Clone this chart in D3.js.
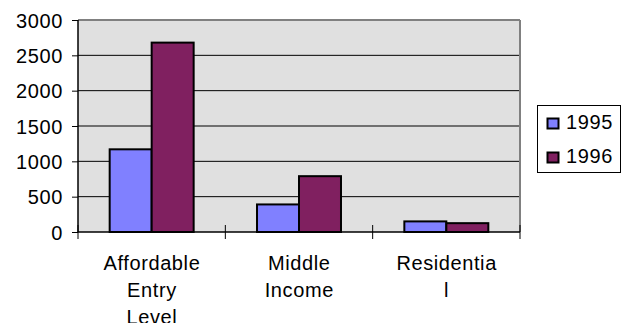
<!DOCTYPE html>
<html><head><meta charset="utf-8">
<script src="https://cdn.jsdelivr.net/npm/d3@7/dist/d3.min.js"></script>
<style>
html,body{margin:0;padding:0;background:#fff;}
svg{display:block;}
text{font-family:"Liberation Sans",Arial,sans-serif;font-size:20px;letter-spacing:0.6px;fill:#000;}
</style></head>
<body>
<script>
const categories = ["Affordable Entry Level", "Middle Income", "Residential"];
const tickLabelLines = [["Affordable", "Entry", "Level"], ["Middle", "Income"], ["Residentia", "l"]];
const series = ["1995", "1996"];
const values1995 = [1170, 390, 150];
const values1996 = [2680, 790, 125];
const yTicks = [0, 500, 1000, 1500, 2000, 2500, 3000];
const colors = ["#8080ff", "#802060"];

(function () {
const W = 624, H = 323;
const svg = d3.select("body").append("svg").attr("width", W).attr("height", H);
const pL = 78, pR = 520, pT = 20, pB = 232;

const x = d3.scaleBand().domain(categories).range([pL, pR]).padding(0);
const groupW = x.bandwidth() * 0.57;
const x1 = d3.scaleBand().domain(series).range([(x.bandwidth() - groupW) / 2, (x.bandwidth() + groupW) / 2]).padding(0);
const y = d3.scaleLinear().domain([0, 3000]).range([pB, pT]);

// plot background
svg.append("rect").attr("x", pL).attr("y", pT).attr("width", pR - pL).attr("height", pB - pT).attr("fill", "#e0e0e0");

// gridlines
svg.append("g").selectAll("line").data(yTicks.filter(d => d > 0 && d < 3000)).join("line")
  .attr("x1", pL).attr("x2", pR).attr("y1", d => y(d)).attr("y2", d => y(d))
  .attr("stroke", "#000").attr("stroke-width", 1);
// top & right border
svg.append("line").attr("x1", pL).attr("x2", pR).attr("y1", y(3000)).attr("y2", y(3000)).attr("stroke", "#808080").attr("stroke-width", 2);
svg.append("line").attr("x1", pR).attr("x2", pR).attr("y1", pT).attr("y2", pB).attr("stroke", "#808080").attr("stroke-width", 2);

// bars
const data = categories.map((c, i) => ({cat: c, vals: [values1995[i], values1996[i]]}));
const g = svg.append("g");
data.forEach(d => {
  d.vals.forEach((v, j) => {
    g.append("rect")
      .attr("x", x(d.cat) + x1(series[j]))
      .attr("y", y(v))
      .attr("width", x1.bandwidth())
      .attr("height", y(0) - y(v))
      .attr("fill", colors[j]).attr("stroke", "#000").attr("stroke-width", 2);
  });
});

// y axis
const yAxis = svg.append("g").attr("transform", `translate(${pL},0)`)
  .call(d3.axisLeft(y).tickValues(yTicks).tickSize(6).tickPadding(9).tickFormat(d3.format("d")));
yAxis.attr("font-size", null).attr("font-family", null);
yAxis.select(".domain").attr("stroke", "#000").attr("stroke-width", 1.5).attr("d", `M0,${pT}V${pB}`);
yAxis.selectAll(".tick line").attr("stroke", "#000");
yAxis.selectAll("text").attr("dy", "0.35em");

// x axis
const xAxis = svg.append("g").attr("transform", `translate(0,${pB})`);
xAxis.append("line").attr("x1", pL).attr("x2", pR).attr("y1", 0).attr("y2", 0).attr("stroke", "#000").attr("stroke-width", 1.5);
const bounds = categories.map(c => x(c)).concat([x(categories[categories.length - 1]) + x.bandwidth()]);
xAxis.selectAll("line.tk").data(bounds).join("line").attr("class", "tk")
  .attr("x1", d => d).attr("x2", d => d).attr("y1", -7).attr("y2", 7).attr("stroke", "#000");
categories.forEach((c, i) => {
  const cx = x(c) + x.bandwidth() / 2 + 0.3;
  const t = xAxis.append("text").attr("text-anchor", "middle").attr("x", cx).attr("y", 38);
  tickLabelLines[i].forEach((ln, k) => {
    t.append("tspan").attr("x", cx).attr("dy", k === 0 ? 0 : 27).text(ln);
  });
});

// legend
const lg = svg.append("g");
lg.append("rect").attr("x", 537.5).attr("y", 105.5).attr("width", 83).attr("height", 67).attr("fill", "#fff").attr("stroke", "#000").attr("stroke-width", 1);
series.forEach((s, j) => {
  const yy = 129 + j * 34;
  lg.append("rect").attr("x", 547.5).attr("y", yy - 10.5).attr("width", 11).attr("height", 10)
    .attr("fill", colors[j]).attr("stroke", "#000").attr("stroke-width", 2);
  lg.append("text").attr("x", 566).attr("y", yy).text(s);
});
})();
</script>
</body></html>
